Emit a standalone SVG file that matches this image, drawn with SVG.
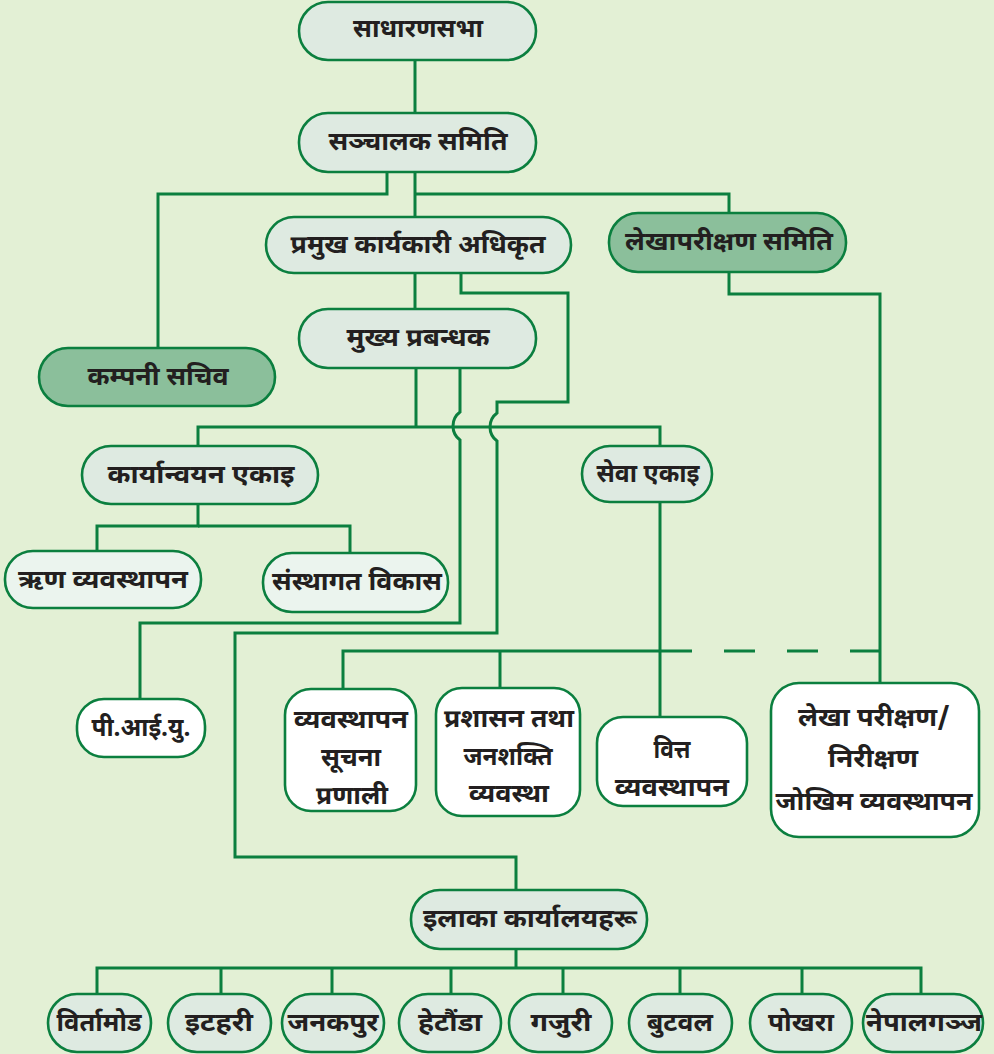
<svg xmlns="http://www.w3.org/2000/svg" width="994" height="1054" viewBox="0 0 994 1054">
<style>
.bg{fill:#e3f0d5}
.n{stroke:#0b7f3f;stroke-width:2.6}
.lt{fill:#deeae1}
.dk{fill:#8bbf9b}
.wh{fill:#ffffff}
.vl{fill:#ebf4ee}
text{font-family:"Noto Sans Devanagari","Lohit Devanagari","Noto Sans",sans-serif;font-weight:bold;font-size:25px;fill:#231f20;text-anchor:middle}
.c{fill:none;stroke:#0b7f3f;stroke-width:3}
</style>
<rect class="bg" x="0" y="0" width="994" height="1054"/>
<g id="connectors">
<path class="c" d="M415 60V113"/>
<path class="c" d="M387 172V194H158V348"/>
<path class="c" d="M415 172V217"/>
<path class="c" d="M415 194H729V213"/>
<path class="c" d="M415 273V309"/>
<path class="c" d="M461 273V293H568V402H497V413A17.5 17.5 0 0 0 497 441V633H235V857H516V890"/>
<path class="c" d="M416 368V427"/>
<path class="c" d="M460 368V412A17.5 17.5 0 0 0 460 440V623H140V699"/>
<path class="c" d="M198 446V427H660V446"/>
<path class="c" d="M198 504V526H97V551"/>
<path class="c" d="M198 526H350V553"/>
<path class="c" d="M660 502V717"/>
<path class="c" d="M343 689V651H661"/>
<path class="c" d="M500 651V688"/>
<path class="c" d="M661 651H880" stroke-dasharray="31 32"/>
<path class="c" d="M729 272V294H880V683"/>
<path class="c" d="M516 949V968"/>
<path class="c" d="M97 994V968H921V994"/>
<path class="c" d="M221 968V994M332 968V994M451 968V994M563 968V994M680 968V994M802 968V994"/>
</g>
<g id="n-sadharansabha"><rect class="n lt" x="299" y="2" width="237" height="58" rx="29"/><text x="418" y="37" textLength="130" lengthAdjust="spacingAndGlyphs">साधारणसभा</text></g>
<g id="n-sanchalak"><rect class="n lt" x="299" y="113" width="237" height="59" rx="29"/><text x="418" y="150" textLength="179" lengthAdjust="spacingAndGlyphs">सञ्चालक समिति</text></g>
<g id="n-pramukh"><rect class="n lt" x="266" y="217" width="305" height="56" rx="28"/><text x="418" y="253" textLength="255" lengthAdjust="spacingAndGlyphs">प्रमुख कार्यकारी अधिकृत</text></g>
<g id="n-lekhapariksan"><rect class="n dk" x="609" y="213" width="237" height="59" rx="29"/><text x="729" y="250" textLength="208" lengthAdjust="spacingAndGlyphs">लेखापरीक्षण समिति</text></g>
<g id="n-sachiv"><rect class="n dk" x="39" y="348" width="236" height="58" rx="29"/><text x="158" y="385" textLength="141" lengthAdjust="spacingAndGlyphs">कम्पनी सचिव</text></g>
<g id="n-mukhya"><rect class="n lt" x="299" y="309" width="237" height="59" rx="29"/><text x="418" y="346" textLength="143" lengthAdjust="spacingAndGlyphs">मुख्य प्रबन्धक</text></g>
<g id="n-karyanwayan"><rect class="n lt" x="82" y="446" width="236" height="58" rx="29"/><text x="201" y="483" textLength="187" lengthAdjust="spacingAndGlyphs">कार्यान्वयन एकाइ</text></g>
<g id="n-sewa"><rect class="n lt" x="582" y="446" width="130" height="56" rx="28"/><text x="648" y="482" textLength="103" lengthAdjust="spacingAndGlyphs">सेवा एकाइ</text></g>
<g id="n-rin"><rect class="n vl" x="5" y="551" width="196" height="57" rx="28"/><text x="103" y="588" textLength="170" lengthAdjust="spacingAndGlyphs">ऋण व्यवस्थापन</text></g>
<g id="n-sansthagat"><rect class="n vl" x="263" y="553" width="185" height="59" rx="29"/><text x="357" y="590" textLength="170" lengthAdjust="spacingAndGlyphs">संस्थागत विकास</text></g>
<g id="n-piu"><rect class="n wh" x="77" y="699" width="128" height="58" rx="27"/><text x="141" y="736" textLength="99" lengthAdjust="spacingAndGlyphs">पी.आई.यु.</text></g>
<g id="n-mis"><rect class="n wh" x="285" y="689" width="131" height="122" rx="26"/><text x="351" y="728" textLength="114" lengthAdjust="spacingAndGlyphs">व्यवस्थापन</text><text x="351" y="766" textLength="60" lengthAdjust="spacingAndGlyphs">सूचना</text><text x="352" y="804" textLength="72" lengthAdjust="spacingAndGlyphs">प्रणाली</text></g>
<g id="n-prashasan"><rect class="n wh" x="436" y="688" width="144" height="128" rx="26"/><text x="509" y="727" textLength="130" lengthAdjust="spacingAndGlyphs">प्रशासन तथा</text><text x="508" y="765" textLength="89" lengthAdjust="spacingAndGlyphs">जनशक्ति</text><text x="509" y="802" textLength="80" lengthAdjust="spacingAndGlyphs">व्यवस्था</text></g>
<g id="n-bitta"><rect class="n wh" x="597" y="717" width="150" height="89" rx="26"/><text x="672" y="758" textLength="37" lengthAdjust="spacingAndGlyphs">वित्त</text><text x="672" y="796" textLength="114" lengthAdjust="spacingAndGlyphs">व्यवस्थापन</text></g>
<g id="n-lekha"><rect class="n wh" x="771" y="683" width="208" height="154" rx="28"/><text x="874" y="726" textLength="152" lengthAdjust="spacingAndGlyphs">लेखा परीक्षण/</text><text x="873" y="767" textLength="90" lengthAdjust="spacingAndGlyphs">निरीक्षण</text><text x="874" y="810" textLength="197" lengthAdjust="spacingAndGlyphs">जोखिम व्यवस्थापन</text></g>
<g id="n-ilaka"><rect class="n lt" x="411" y="890" width="236" height="59" rx="29"/><text x="530" y="927" textLength="214" lengthAdjust="spacingAndGlyphs">इलाका कार्यालयहरू</text></g>
<g id="n-birtamod"><rect class="n lt" x="48" y="994" width="103" height="58" rx="29"/><text x="99" y="1031" textLength="85" lengthAdjust="spacingAndGlyphs">विर्तामोड</text></g>
<g id="n-itahari"><rect class="n lt" x="168" y="994" width="103" height="58" rx="29"/><text x="219" y="1031" textLength="68" lengthAdjust="spacingAndGlyphs">इटहरी</text></g>
<g id="n-janakpur"><rect class="n lt" x="282" y="994" width="102" height="58" rx="29"/><text x="333" y="1031" textLength="91" lengthAdjust="spacingAndGlyphs">जनकपुर</text></g>
<g id="n-hetauda"><rect class="n lt" x="399" y="994" width="102" height="58" rx="29"/><text x="450" y="1031" textLength="64" lengthAdjust="spacingAndGlyphs">हेटौंडा</text></g>
<g id="n-gajuri"><rect class="n lt" x="509" y="994" width="103" height="58" rx="29"/><text x="561" y="1031" textLength="61" lengthAdjust="spacingAndGlyphs">गजुरी</text></g>
<g id="n-butwal"><rect class="n lt" x="629" y="994" width="103" height="58" rx="29"/><text x="680" y="1031" textLength="66" lengthAdjust="spacingAndGlyphs">बुटवल</text></g>
<g id="n-pokhara"><rect class="n lt" x="750" y="994" width="102" height="58" rx="29"/><text x="801" y="1031" textLength="66" lengthAdjust="spacingAndGlyphs">पोखरा</text></g>
<g id="n-nepalgunj"><rect class="n lt" x="863" y="994" width="120" height="58" rx="29"/><text x="924" y="1031" textLength="116" lengthAdjust="spacingAndGlyphs">नेपालगञ्ज</text></g>
</svg>
